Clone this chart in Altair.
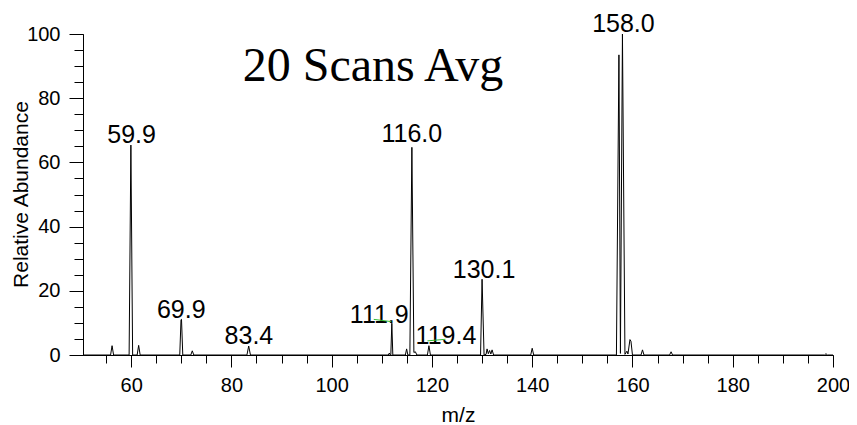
import altair as alt
import pandas as pd

# Profile spectrum (m/z, relative abundance)
mz = [50.4, 55.9, 56.2, 56.5, 59.6, 59.95, 60.3, 61.2, 61.5, 61.8,
      69.7, 69.95, 70.05, 70.3, 71.9, 72.2, 72.5, 83.1, 83.45, 83.8,
      111.3, 111.5, 111.7, 111.8, 112.0, 112.2, 114.7, 114.95, 115.2,
      115.6, 116.0, 116.4, 116.7, 117.0, 119.1, 119.4, 119.7,
      129.7, 130.0, 130.4, 130.8, 131.0, 131.25, 131.5, 131.75, 132.0, 132.3,
      139.7, 140.0, 140.3, 156.8, 157.3, 157.6, 158.0, 158.5, 158.9, 159.1,
      159.5, 159.7, 160.0, 161.7, 162.0, 162.3, 167.4, 167.7, 168.0,
      198.3, 198.6, 198.9, 200.0]
abundance = [0, 0, 2.9, 0, 0, 65.4, 0, 0, 3.0, 0,
             0, 11.0, 11.1, 0, 0, 1.3, 0, 0, 2.8, 0,
             0, 0.6, 0, 0, 9.9, 0, 0, 1.9, 0,
             0, 64.7, 0.8, 1.0, 0, 0, 2.9, 0,
             0, 23.6, 0, 0.2, 1.9, 0.4, 1.4, 0.3, 1.6, 0,
             0, 2.1, 0, 0, 93.5, 0.5, 100.0, 0.2, 1.2, 0.3,
             4.8, 4.3, 0, 0, 1.6, 0, 0, 1.0, 0,
             0, 0.4, 0, 0]

# Peak annotations
label_text = ["59.9", "69.9", "83.4", "111.9", "116.0", "119.4", "130.1", "158.0"]
label_mz = [60.1, 70.0, 83.5, 109.5, 116.0, 122.8, 130.4, 158.2]
label_y = [65.9, 11.4, 3.3, 10.1, 66.3, 3.3, 24.1, 100.5]

# Small green marker segments
seg_x = [108.4, 119.1]
seg_x2 = [111.9, 122.7]
seg_y = [11.1, 4.4]
seg_y2 = [10.4, 4.9]

# Axis ticks
x_major = list(range(60, 201, 20))
x_minor = list(range(55, 201, 5))
y_major = list(range(0, 101, 20))
y_minor = list(range(0, 101, 5))

title_text = "20 Scans Avg"

spec_df = pd.DataFrame({"mz": mz, "ab": abundance})
lab_df = pd.DataFrame({"t": label_text, "mz": label_mz, "y": label_y})
seg_df = pd.DataFrame({"x": seg_x, "x2": seg_x2, "y": seg_y, "y2": seg_y2})

FONT = "Liberation Sans"

x_scale = alt.Scale(domain=[50.4, 200], nice=False, zero=False)
y_scale = alt.Scale(domain=[0, 100], nice=False)

x_axis_major = alt.Axis(
    orient="bottom", values=x_major, tickSize=12, labelPadding=8,
    labelFlush=False, labelOverlap=False,
    title="m/z", titleX=375, titleY=66, titleBaseline="alphabetic", titleAlign="center",
    grid=False,
)
x_axis_minor = alt.Axis(
    orient="bottom", values=x_minor, tickSize=8, labels=False, title=None,
    grid=False, domain=False,
)
y_axis_major = alt.Axis(
    orient="left", values=y_major, tickSize=14, labelPadding=9,
    labelFlush=False, labelOverlap=False,
    title="Relative Abundance", titleX=-56, titleY=160, titleBaseline="alphabetic",
    titleAlign="center", titleAngle=270, grid=False,
)
y_axis_minor = alt.Axis(
    orient="left", values=y_minor, tickSize=9, labels=False, title=None,
    grid=False, domain=False,
)

line = alt.Chart(spec_df).mark_line(color="black", strokeWidth=1).encode(
    x=alt.X("mz:Q", scale=x_scale, axis=x_axis_major),
    y=alt.Y("ab:Q", scale=y_scale, axis=y_axis_major),
)

segs = alt.Chart(seg_df).mark_rule(color="#33bb33", strokeWidth=1).encode(
    x=alt.X("x:Q", scale=x_scale, axis=x_axis_minor),
    x2="x2:Q",
    y=alt.Y("y:Q", scale=y_scale, axis=y_axis_minor),
    y2="y2:Q",
)

labels = alt.Chart(lab_df).mark_text(
    font=FONT, fontSize=25, align="center", baseline="alphabetic", color="black"
).encode(
    x=alt.X("mz:Q", scale=x_scale, axis=None),
    y=alt.Y("y:Q", scale=y_scale, axis=None),
    text="t:N",
)

title = alt.Chart(pd.DataFrame({"t": [title_text]})).mark_text(
    font="Liberation Serif", fontSize=48, align="center", baseline="alphabetic", color="black"
).encode(
    x=alt.value(290),
    y=alt.value(47),
    text="t:N",
)

chart = alt.layer(line, labels, segs, title).resolve_axis(
    x="independent", y="independent"
).properties(
    width=750, height=321,
    autosize=alt.AutoSizeParams(type="none"),
    padding={"left": 75, "top": 26, "right": 16, "bottom": 70},
).configure_view(stroke=None).configure_axis(
    domainColor="black", domainWidth=1, tickColor="black", tickWidth=1,
    labelFont=FONT, labelFontSize=20, labelColor="black",
    titleFont=FONT, titleFontSize=21, titleColor="black", titleFontWeight="normal",
)

chart.save("out.html", embed_options={"renderer": "svg", "actions": False})
